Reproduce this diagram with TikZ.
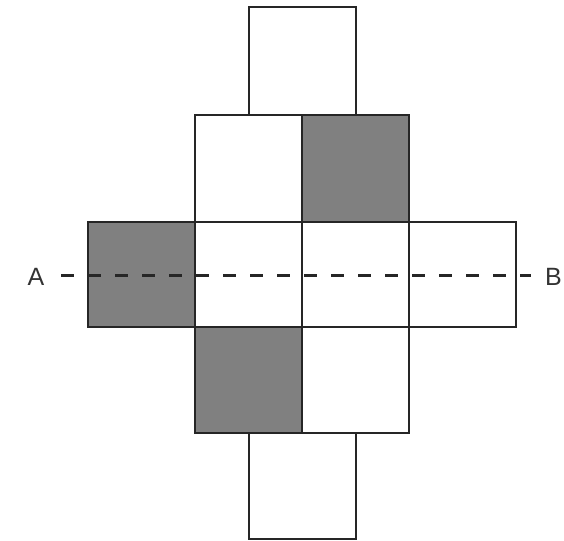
\documentclass[tikz,border=0pt]{standalone}
\usepackage{fontspec}
\setmainfont{Liberation Sans}
\begin{document}
\begin{tikzpicture}[x=1pt,y=-1pt,
  sq/.style={draw=black!85, line width=1.6pt, minimum width=107pt, minimum height=107pt, inner sep=0pt, outer sep=0pt},
  shaded/.style={sq, fill=black!50},
  cut/.style={draw=black!85, line width=3pt, dash pattern=on 13pt off 14pt},
  lbl/.style={font=\fontsize{25}{25}\selectfont, text=black!80, inner sep=0pt}]
\useasboundingbox (0,0) rectangle (564,540);
\node[sq, minimum height=108pt] (top) at (302.5,61) {};
\node[sq] (r1a) at (248.5,168.5) {};
\node[shaded] (r1b) at (355.5,168.5) {};
\node[shaded, minimum height=105pt] (r2a) at (141.5,274.5) {};
\node[sq, minimum height=105pt] (r2b) at (248.5,274.5) {};
\node[sq, minimum height=105pt] (r2c) at (355.5,274.5) {};
\node[sq, minimum height=105pt] (r2d) at (462.5,274.5) {};
\node[shaded, minimum height=106pt] (r3a) at (248.5,380) {};
\node[sq, minimum height=106pt] (r3b) at (355.5,380) {};
\node[sq, minimum height=106pt] (bot) at (302.5,486) {};
\node[lbl] (A) at (36,277) {A};
\node[lbl, anchor=west] (B) at (545,277) {B};
\coordinate (ca) at (61,275);
\coordinate (cb) at (531,275);
\draw[cut] (ca) -- (cb);
\end{tikzpicture}
\end{document}
